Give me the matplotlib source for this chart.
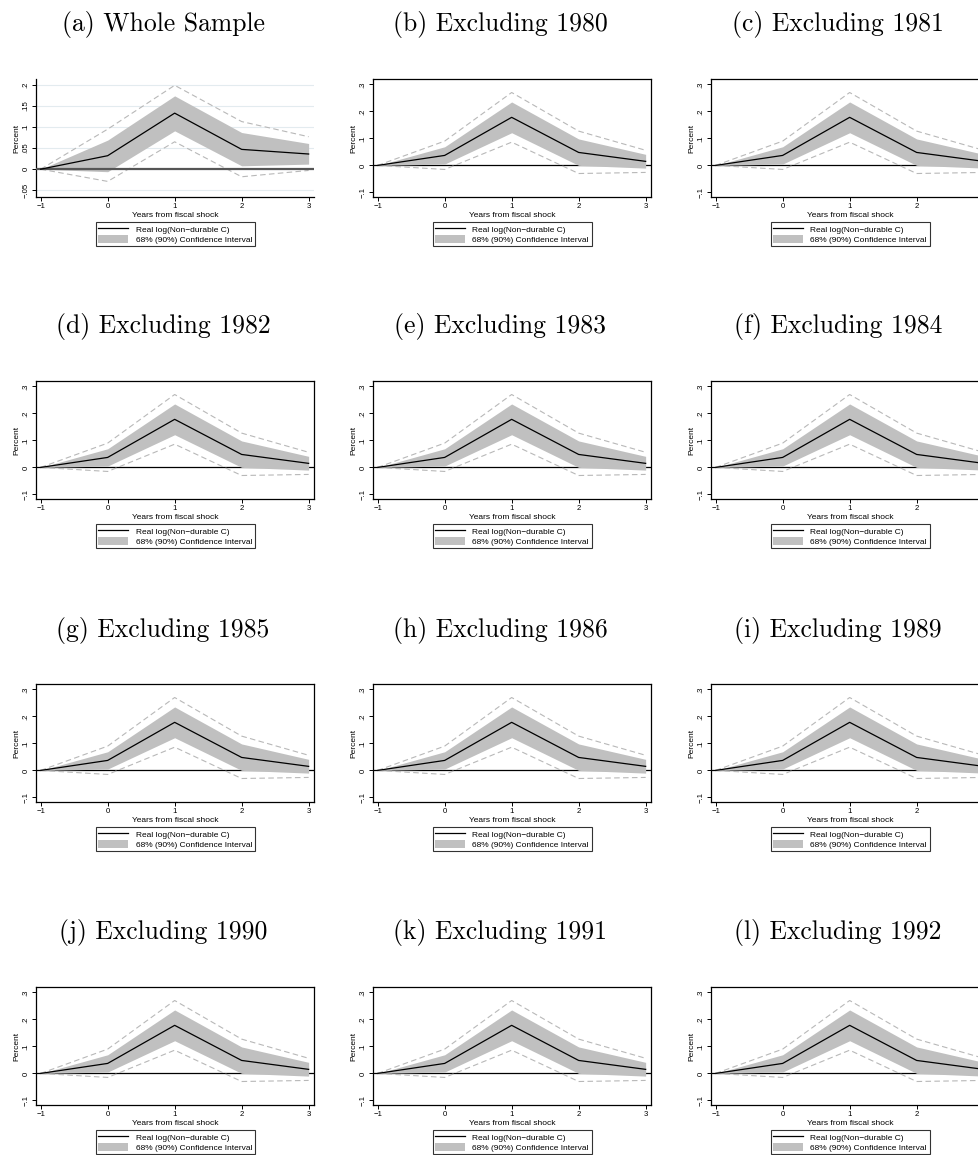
import numpy as np
import matplotlib.pyplot as plt
from matplotlib.lines import Line2D
from matplotlib.patches import Patch

years = [-1, 0, 1, 2, 3]

# panel (a), whole sample
whole_irf = [0, 0.032, 0.133, 0.047, 0.036]
whole_lo68 = [0, -0.006, 0.091, 0.008, 0.012]
whole_hi68 = [0, 0.069, 0.174, 0.087, 0.061]
whole_lo90 = [0, -0.029, 0.065, -0.018, -0.003]
whole_hi90 = [0, 0.095, 0.199, 0.113, 0.077]

# panels (b)-(l), excluding one year each (they all look the same)
excl_irf = [0, 0.037, 0.178, 0.048, 0.015]
excl_lo68 = [0, 0.005, 0.121, 0.0, -0.010]
excl_hi68 = [0, 0.069, 0.235, 0.098, 0.041]
excl_lo90 = [0, -0.015, 0.086, -0.030, -0.026]
excl_hi90 = [0, 0.090, 0.270, 0.127, 0.056]

titles = ["(a) Whole Sample", "(b) Excluding 1980", "(c) Excluding 1981",
          "(d) Excluding 1982", "(e) Excluding 1983", "(f) Excluding 1984",
          "(g) Excluding 1985", "(h) Excluding 1986", "(i) Excluding 1989",
          "(j) Excluding 1990", "(k) Excluding 1991", "(l) Excluding 1992"]

whole_yticks = [-0.05, 0, 0.05, 0.1, 0.15, 0.2]
whole_ylabels = ["\u2212.05", "0", ".05", ".1", ".15", ".2"]
excl_yticks = [-0.1, 0, 0.1, 0.2, 0.3]
excl_ylabels = ["\u2212.1", "0", ".1", ".2", ".3"]
xlabels = ["\u22121", "0", "1", "2", "3"]

W, H = 979, 1155
fig = plt.figure(figsize=(W / 100, H / 100), dpi=100)

col_left = [36, 373, 711]
row_top = [79, 381, 684, 987]
ax_w, ax_h = 278, 118

sans = "Liberation Sans"
small = 5.6
band_col = "#c0c0c0"
dash_col = "#b8b8b8"

for i, title in enumerate(titles):
    r, c = divmod(i, 3)
    left = col_left[c]
    top = row_top[r]
    ax = fig.add_axes([left / W, 1 - (top + ax_h) / H, ax_w / W, ax_h / H])

    if i == 0:
        irf, lo68, hi68, lo90, hi90 = whole_irf, whole_lo68, whole_hi68, whole_lo90, whole_hi90
        yt, yl = whole_yticks, whole_ylabels
        ax.set_ylim(-0.066, 0.214)
        for y in whole_yticks:
            ax.axhline(y, color="#e3ebef", lw=0.8, zorder=0)
        ax.axhline(0, color="#555555", lw=1.6, zorder=4)
        ax.spines["top"].set_visible(False)
        ax.spines["right"].set_visible(False)
    else:
        irf, lo68, hi68, lo90, hi90 = excl_irf, excl_lo68, excl_hi68, excl_lo90, excl_hi90
        yt, yl = excl_yticks, excl_ylabels
        ax.set_ylim(-0.117, 0.32)
        ax.axhline(0, color="black", lw=0.9, zorder=1)

    ax.fill_between(years, lo68, hi68, color=band_col, lw=0, zorder=2)
    ax.plot(years, lo90, color=dash_col, lw=0.8, dashes=(5, 3), zorder=3)
    ax.plot(years, hi90, color=dash_col, lw=0.8, dashes=(5, 3), zorder=3)
    ax.plot(years, irf, color="black", lw=0.9, zorder=5)

    ax.set_xlim(-1.07, 3.08)
    ax.set_xticks(years)
    ax.set_xticklabels(xlabels, fontsize=small, family=sans)
    ax.set_yticks(yt)
    ax.set_yticklabels(yl, fontsize=small, family=sans, rotation=90, va="center")
    ax.tick_params(length=3, width=0.7, pad=1.5)
    for s in ax.spines.values():
        s.set_linewidth(0.9)

    ax.set_xlabel("Years from fiscal shock", fontsize=6, family=sans, labelpad=1)
    ax.set_ylabel("Percent", fontsize=6, family=sans, labelpad=2)

    handles = [Line2D([0], [0], color="black", lw=0.9),
               Patch(facecolor=band_col, edgecolor="none")]
    leg = ax.legend(handles, ["Real log(Non\u2212durable C)", "68% (90%) Confidence Interval"],
                    loc="upper center", bbox_to_anchor=(0.5, -0.215),
                    prop={"family": sans, "size": 6}, frameon=True, fancybox=False,
                    edgecolor="black", handlelength=3.6, handleheight=1.1,
                    borderpad=0.3, labelspacing=0.15, handletextpad=0.9, borderaxespad=0)
    leg.get_frame().set_linewidth(0.8)

    fig.text((left + ax_w / 2 - 12) / W, 1 - (top - 54) / H, title,
             family="cmr10", fontsize=18.5, ha="center", va="center")

fig.savefig("out.png", dpi=100)
